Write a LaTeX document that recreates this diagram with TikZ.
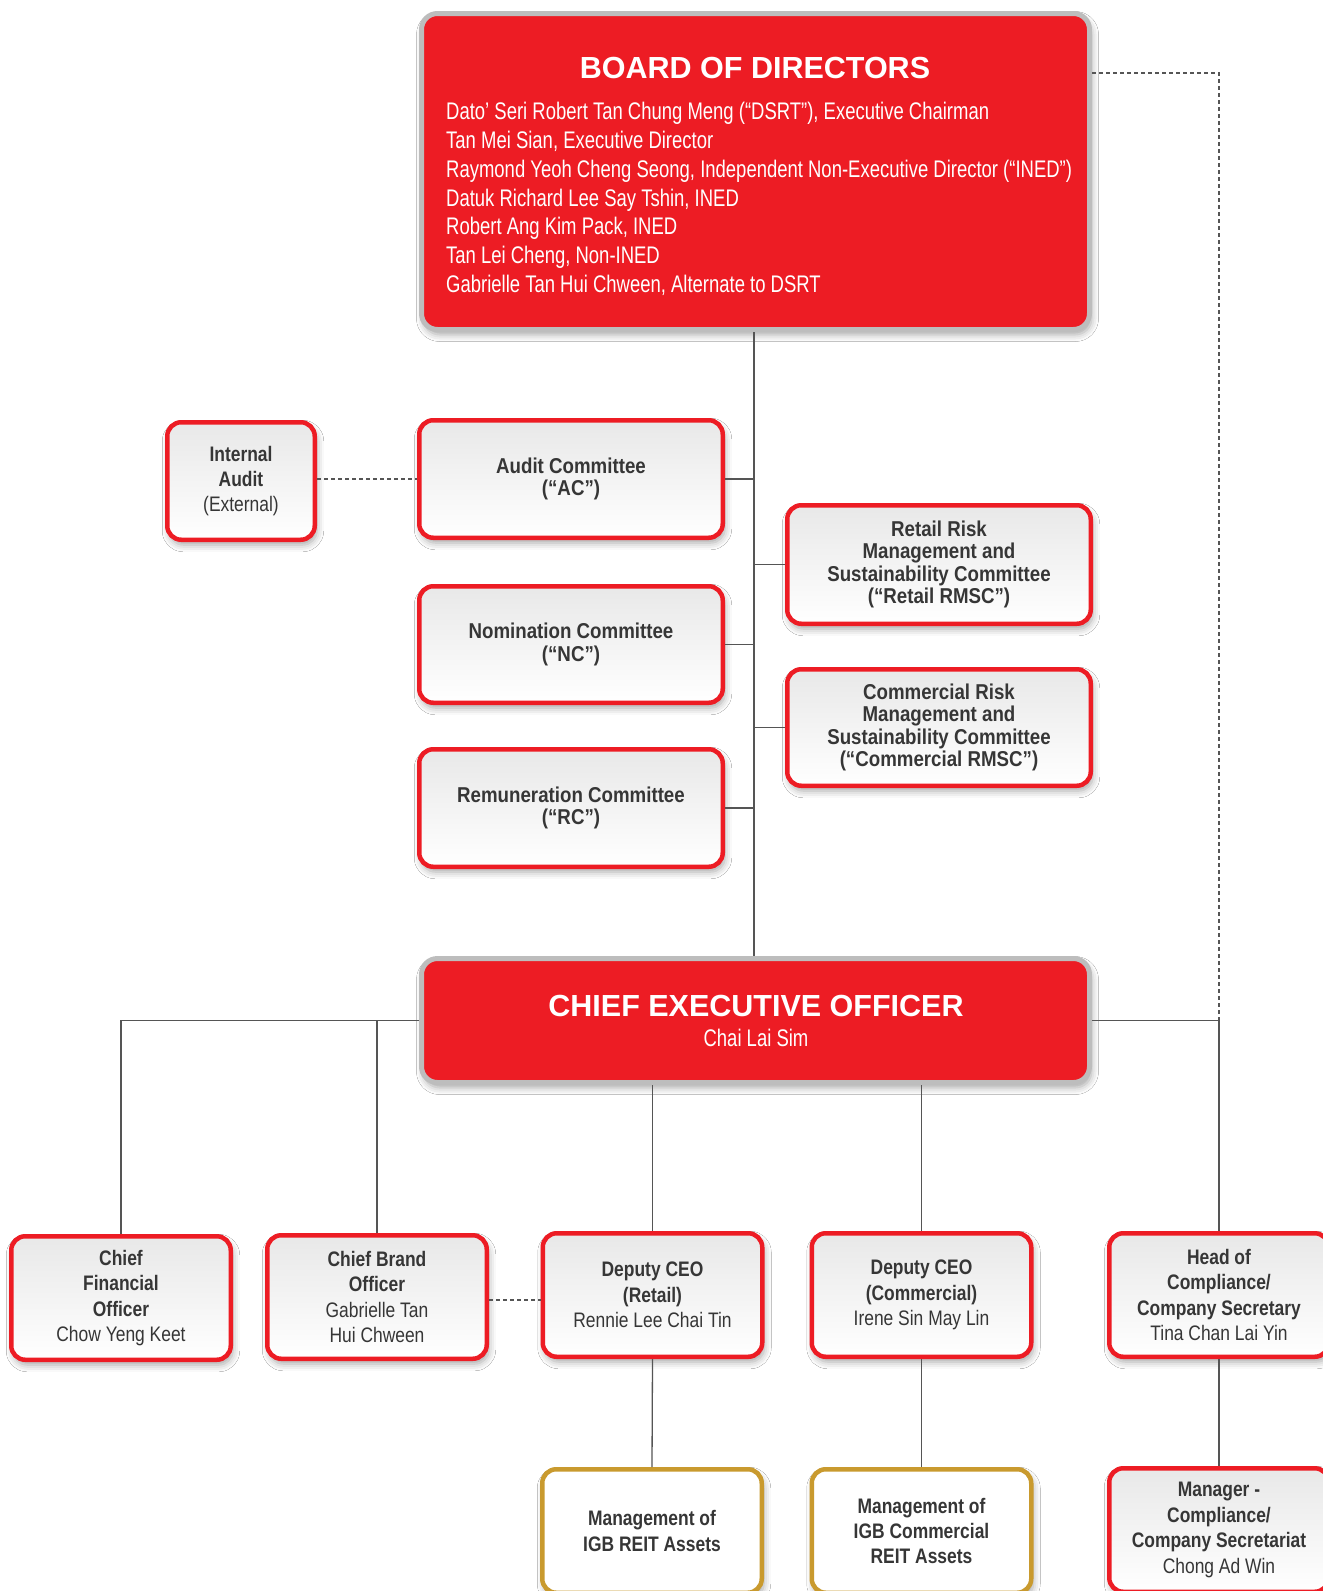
\documentclass[tikz,border=0pt]{standalone}
\usepackage{fontspec}
\setmainfont{Liberation Sans}
\newfontfamily\namefont[FakeStretch=0.77]{Liberation Sans}
\newfontfamily\botfont[FakeStretch=0.83]{Liberation Sans}
\newfontfamily\comfont[FakeStretch=0.87]{Liberation Sans}
\usetikzlibrary{shadows.blur}
\definecolor{igbred}{HTML}{ED1C24}
\definecolor{igbgold}{HTML}{C99A2E}
\definecolor{txt}{HTML}{363636}
\definecolor{lnc}{HTML}{555555}
\definecolor{framec}{HTML}{BDBDBD}
\begin{document}
\begin{tikzpicture}[x=1pt,y=-1pt,
  softshadow/.style={blur shadow={shadow xshift=2pt, shadow yshift=-5pt, shadow blur radius=7pt, shadow opacity=35}},
  card/.style={rectangle, rounded corners=14pt, draw=igbred, line width=4.5pt,
    top color=black!9, bottom color=white, softshadow,
    text=txt, align=center, inner sep=0pt},
  goldcard/.style={rectangle, rounded corners=14pt, draw=igbgold, line width=4.5pt,
    fill=white, softshadow, text=txt, align=center, inner sep=0pt},
  redcard/.style={rectangle, rounded corners=16pt, draw=framec, line width=5pt, fill=igbred,
    softshadow, inner sep=0pt},
  conn/.style={draw=lnc, line width=1.3pt},
  dashconn/.style={conn, dash pattern=on 4pt off 3pt},
  botf/.style={font=\botfont\fontsize{21}{25.4}\selectfont},
  comf/.style={font=\comfont\bfseries\fontsize{21.5}{22.5}\selectfont},
  namef/.style={font=\namefont\fontsize{24}{28.9}\selectfont, text=white, anchor=base west, inner sep=0pt},
  wtitle/.style={font=\bfseries\fontsize{30.5}{36}\selectfont, text=white, anchor=base, inner sep=0pt},
]
\path[use as bounding box] (0,0) rectangle (1323,1591);
\clip (0,0) rectangle (1323,1591);
\fill[white] (0,0) rectangle (1323,1591);

% Board
\node[redcard, minimum width=668, minimum height=316] (board) at (755.5,171.5) {};
\node[wtitle] (bodt) at (755,78) {BOARD OF DIRECTORS};
\foreach \t [count=\i] in {{Dato’ Seri Robert Tan Chung Meng (“DSRT”), Executive Chairman},
  {Tan Mei Sian, Executive Director},
  {Raymond Yeoh Cheng Seong, Independent Non-Executive Director (“INED”)},
  {Datuk Richard Lee Say Tshin, INED},
  {Robert Ang Kim Pack, INED},
  {Tan Lei Cheng, Non-INED},
  {Gabrielle Tan Hui Chween, Alternate to DSRT}}
  \node[namef] (bn\i) at (446,{119.3+(\i-1)*28.9}) {\t};

% Committees
\node[card, botf, minimum width=147.5, minimum height=117.5] (ia) at (241,481)
  {\textbf{Internal}\\\textbf{Audit}\\(External)};
\node[card, comf, minimum width=303.5, minimum height=117.5] (ac) at (571,479)
  {Audit Committee\\(“AC”)};
\node[card, comf, minimum width=303.5, minimum height=116.5] (nc) at (571,644.5)
  {Nomination Committee\\(“NC”)};
\node[card, comf, minimum width=303.5, minimum height=117.5] (rc) at (571,808)
  {Remuneration Committee\\(“RC”)};
\node[card, comf, minimum width=303.5, minimum height=118.5] (rr) at (939,564.5)
  {Retail Risk\\Management and\\Sustainability Committee\\(“Retail RMSC”)};
\node[card, comf, minimum width=303.5, minimum height=116.5] (cr) at (939,727.5)
  {Commercial Risk\\Management and\\Sustainability Committee\\(“Commercial RMSC”)};

% CEO
\node[redcard, minimum width=668, minimum height=124] (ceo) at (755.5,1020.5) {};
\node[wtitle] (ceot) at (756,1016) {CHIEF EXECUTIVE OFFICER};
\node[namef, anchor=base] (ceon) at (756,1046.7) {Chai Lai Sim};

% Row
\node[card, botf, minimum width=219.5, minimum height=123.5] (cfo) at (121,1298)
  {\textbf{Chief}\\\textbf{Financial}\\\textbf{Officer}\\Chow Yeng Keet};
\node[card, botf, minimum width=219.5, minimum height=123.5] (cbo) at (377,1297)
  {\textbf{Chief Brand}\\\textbf{Officer}\\Gabrielle Tan\\Hui Chween};
\node[card, botf, minimum width=219.5, minimum height=123.5] (dr) at (652.5,1295)
  {\textbf{Deputy CEO}\\\textbf{(Retail)}\\Rennie Lee Chai Tin};
\node[card, botf, minimum width=219.5, minimum height=123.5] (dc) at (921.5,1295)
  {\textbf{Deputy CEO}\\\textbf{(Commercial)}\\Irene Sin May Lin};
\node[card, botf, minimum width=219.5, minimum height=123.5] (head) at (1219,1295)
  {\textbf{Head of}\\\textbf{Compliance/}\\\textbf{Company Secretary}\\Tina Chan Lai Yin};

% Bottom
\node[goldcard, botf, minimum width=219.5, minimum height=123.5] (m1) at (652,1531)
  {\textbf{Management of}\\\textbf{IGB REIT Assets}};
\node[goldcard, botf, minimum width=219.5, minimum height=123.5] (m2) at (921.5,1531)
  {\textbf{Management of}\\\textbf{IGB Commercial}\\\textbf{REIT Assets}};
\node[card, botf, minimum width=219.5, minimum height=123.5] (m3) at (1219,1530)
  {\textbf{Manager -}\\\textbf{Compliance/}\\\textbf{Company Secretariat}\\Chong Ad Win};

% Connectors
\coordinate (tk) at (754,0);
\coordinate (rt) at (1219,73);
\draw[conn] (board.south -| tk) -- (ceo.north -| tk);
\draw[conn] (ac.east) -- (ac.east -| tk);
\draw[conn] (nc.east) -- (nc.east -| tk);
\draw[conn] (rc.east) -- (rc.east -| tk);
\draw[conn] (rr.west) -- (rr.west -| tk);
\draw[conn] (cr.west) -- (cr.west -| tk);
\draw[dashconn] (ia.east |- ac.west) -- (ac.west);
\draw[dashconn] (board.east |- rt) -- (rt) -- (rt |- ceo.east);
\draw[conn] (ceo.east) -| (head.north);
\draw[conn] (ceo.west) -| (cfo.north);
\draw[conn] (cbo.north) -- (cbo.north |- ceo.west);
\draw[conn] (ceo.south -| dr.north) -- (dr.north);
\draw[conn] (ceo.south -| dc.north) -- (dc.north);
\draw[dashconn] (cbo.east |- 0,1300) -- (dr.west |- 0,1300);
\draw[conn] (dr.south) -- (m1.north);
\draw[conn] (dc.south) -- (m2.north);
\draw[conn] (head.south) -- (m3.north);
\end{tikzpicture}
\end{document}
